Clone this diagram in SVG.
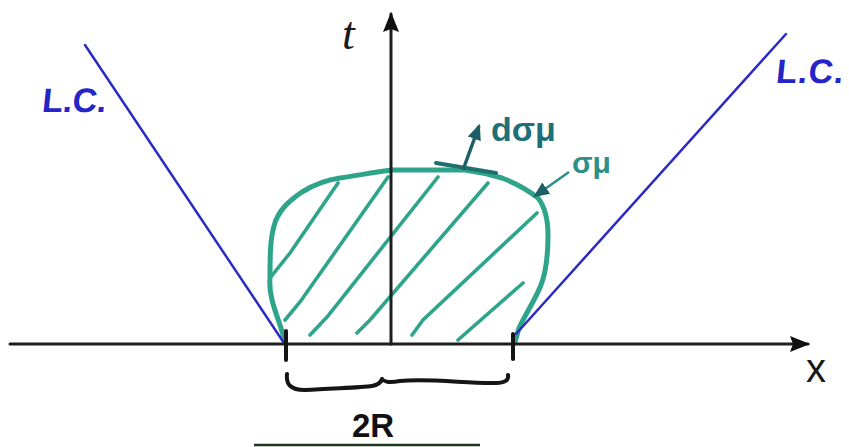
<svg xmlns="http://www.w3.org/2000/svg" width="849" height="447" viewBox="0 0 849 447">
  <style>
    .axis { stroke: #1e1e1e; stroke-width: 3; fill: none; stroke-linecap: round; }
    .lc { stroke: #2b2bc4; stroke-width: 2.5; fill: none; stroke-linecap: round; }
    .green { stroke: #2ea58b; stroke-width: 5; fill: none; stroke-linecap: round; stroke-linejoin: round; }
    .hatch { stroke: #2ea58b; stroke-width: 3.6; fill: none; stroke-linecap: round; }
    .ink { stroke: #151515; stroke-width: 4; fill: none; stroke-linecap: round; stroke-linejoin: round; }
    .lbl { font-family: "Liberation Sans", "DejaVu Sans", sans-serif; font-weight: bold; }
    .thin { font-weight: normal; }
    .blue { fill: #2424c8; font-size: 34px; }
    .teal { fill: #1f6f78; }
  </style>
  <defs>
    <marker id="arrBig" viewBox="0 0 20 20" refX="18" refY="10" markerWidth="20" markerHeight="20" orient="auto" markerUnits="userSpaceOnUse">
      <path d="M0,2 L20,10 L0,18 L3,10 Z" fill="#111"/>
    </marker>
    <marker id="arrTeal" viewBox="0 0 14 14" refX="12" refY="7" markerWidth="16" markerHeight="16" orient="auto" markerUnits="userSpaceOnUse">
      <path d="M0,1 L14,7 L0,13 Z" fill="#1c5f66"/>
    </marker>
  </defs>

  <!-- region (blob) -->
  <g id="region">
    <path class="green" d="M285,342 C280,320 268,300 270,278 C270,258 270,240 274,226 C278,210 290,200 302,192 C315,184 325,180 340,178 C360,175 375,172 392,170 C420,170 445,170 465,170 C480,172 492,175 502,178 C515,183 528,190 538,198 C545,207 548,220 548,235 C548,255 546,272 541,285 C535,300 525,315 519,328 L515,342"/>
    <path class="hatch" d="M270,278 L290,253 L338,183"/>
    <path class="hatch" d="M285,320 L300,302 L388,177"/>
    <path class="hatch" d="M310,335 L327,317 L438,177"/>
    <path class="hatch" d="M357,333 L370,320 L488,183"/>
    <path class="hatch" d="M412,335 L423,320 L537,213"/>
    <path class="hatch" d="M458,340 L523,283"/>
  </g>

  <!-- light cones -->
  <g id="light-cones">
    <line class="lc" x1="85" y1="45" x2="284" y2="343"/>
    <line class="lc" x1="786" y1="34" x2="516" y2="334"/>
  </g>

  <g id="connectors">
    <!-- axes -->
    <line class="axis" x1="10" y1="344" x2="808" y2="344" marker-end="url(#arrBig)"/>
    <line class="axis" x1="391" y1="344" x2="391" y2="14" marker-end="url(#arrBig)"/>
    <!-- ticks -->
    <line class="ink" x1="286" y1="331" x2="286" y2="360"/>
    <line class="ink" x1="513" y1="334" x2="513" y2="359"/>
    <!-- tangent segment and normal arrow -->
    <line x1="436" y1="163" x2="496" y2="173" stroke="#1f6f6f" stroke-width="4" stroke-linecap="round"/>
    <line x1="463" y1="170" x2="479" y2="126" stroke="#1f5f66" stroke-width="3.5" marker-end="url(#arrTeal)"/>
    <!-- sigma pointer -->
    <line x1="569" y1="172" x2="535" y2="196" stroke="#2e8f88" stroke-width="2.5" marker-end="url(#arrTeal)"/>
    <!-- brace -->
    <path class="ink" d="M287,374 C286,384 290,390 305,390 C330,388 360,388 372,386 C378,385 381,382 382,379 C384,382 388,383 400,381 C430,378 470,384 496,383 C505,383 509,380 508,375"/>
    <!-- bottom line -->
    <line x1="254" y1="445" x2="480" y2="445" stroke="#1b3a1b" stroke-width="2.5"/>
  </g>

  <!-- labels -->
  <g id="labels">
    <text class="lbl blue" x="42" y="112" font-size="34" transform="skewX(-6) translate(11,0)">L.C.</text>
    <text class="lbl blue" x="776" y="83" font-size="34" letter-spacing="1" transform="skewX(-6) translate(8,0)">L.C.</text>
    <text x="342" y="49" font-size="46" font-style="italic" fill="#1a1a1a" font-family="Liberation Serif, serif">t</text>
    <text class="lbl thin" x="806" y="382" font-size="40" fill="#1a1a1a">x</text>
    <text class="lbl teal" x="491" y="141" font-size="34">dσμ</text>
    <text class="lbl" x="572" y="173" font-size="30" fill="#2e8f88">σμ</text>
    <text class="lbl" x="352" y="437" font-size="33" fill="#111">2R</text>
  </g>
</svg>
